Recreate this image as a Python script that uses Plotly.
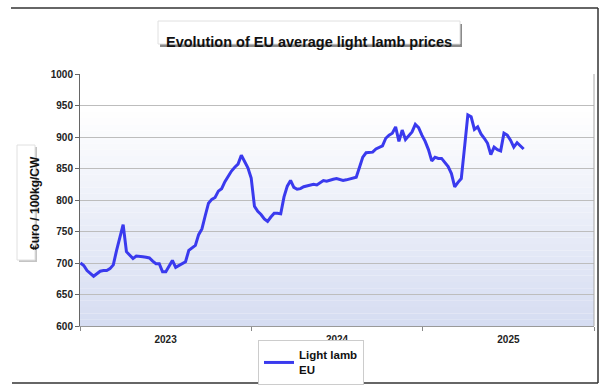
import plotly.graph_objects as go
import pandas as pd

# Weekly EU average light lamb prices (€/100kg CW), from first week of 2023
series_name = "<b>Light lamb<br>EU</b>"
start_week = "2023-01-02"
values = [
    700, 696, 688, 683, 679, 683, 687, 688, 688, 691,
    697, 720, 740, 761, 718, 712, 707, 711, 711, 710,
    709, 708, 703, 699, 699, 686, 686, 694, 704, 693,
    696, 700, 702, 720, 724, 728, 745, 754, 775, 795,
    801, 804, 814, 818, 829, 838, 846, 852, 857, 871,
    861, 851, 835, 790, 782, 777, 770, 766, 773, 779,
    779, 778, 805, 822, 831, 820, 817, 818, 821, 822,
    824, 825, 824, 827, 831, 830, 832, 833, 834, 832,
    831, 832, 833, 834, 836, 852, 868, 875, 875, 876,
    881, 883, 886, 898, 903, 906, 916, 893, 911, 896,
    902, 908, 920, 915, 903, 893, 880, 862, 868, 866,
    866, 860, 853, 842, 821, 828, 834, 884, 935, 932,
    912, 916, 905, 898, 890, 872, 884, 880, 878, 906,
    903, 895, 884, 891, 886, 881,
]
dates = pd.date_range(start_week, periods=len(values), freq="7D")

y_min, y_max, y_step = 600, 1000, 50
x_start, x_end = "2023-01-01", "2026-01-01"

L, R, T, B = 80, 6, 74, 60
W, H = 600, 386
PW, PH = W - L - R, H - T - B


def px(xv):
    return (xv - L) / PW


def py(yv):
    return (H - B - yv) / PH


fig = go.Figure()
fig.add_trace(go.Scatter(
    x=dates, y=values, mode="lines", name=series_name,
    line=dict(color="rgb(58,58,238)", width=3),
))

# gradient plot background (white at top -> pale blue at bottom)
n_strips = 40
shapes = []
for i in range(n_strips):
    f0 = i / n_strips          # measured from top
    f1 = (i + 1) / n_strips
    t = (f0 + f1) / 2          # 0 at top, 1 at bottom
    t = max(0.0, (t - 0.15) / 0.85)
    r = int(255 - t * (255 - 214))
    g = int(255 - t * (255 - 221))
    b = int(255 - t * (255 - 242))
    shapes.append(dict(type="rect", xref="x domain", yref="y domain",
                       x0=0, x1=1, y0=1 - f1, y1=1 - f0,
                       fillcolor=f"rgb({r},{g},{b})", line=dict(width=0),
                       layer="below"))
# outer frame (top, right, bottom)
for x0, y0, x1, y1 in [(11, 8, 598, 8), (598, 8, 598, 383), (12, 383, 598, 383)]:
    shapes.append(dict(type="line", xref="paper", yref="paper",
                       x0=px(x0), x1=px(x1), y0=py(y0), y1=py(y1),
                       line=dict(color="#333", width=1.5)))
# title box shadow and box
shapes.append(dict(type="rect", xref="paper", yref="paper",
                   x0=px(160), x1=px(462), y0=py(47), y1=py(24),
                   fillcolor="#8a8a8a", line=dict(width=0)))
shapes.append(dict(type="rect", xref="paper", yref="paper",
                   x0=px(158), x1=px(460), y0=py(44), y1=py(21),
                   fillcolor="white", line=dict(color="#e0e0e0", width=1)))
# y-title box shadow and box
shapes.append(dict(type="rect", xref="paper", yref="paper",
                   x0=px(19), x1=px(37), y0=py(262), y1=py(147),
                   fillcolor="#c4c4c4", line=dict(width=0)))
shapes.append(dict(type="rect", xref="paper", yref="paper",
                   x0=px(17), x1=px(35), y0=py(260), y1=py(145),
                   fillcolor="white", line=dict(color="#e0e0e0", width=1)))
# plot right border
shapes.append(dict(type="line", xref="x domain", yref="y domain",
                   x0=1, x1=1, y0=0, y1=1, line=dict(color="#aaaaaa", width=1)))

fig.update_layout(
    width=W, height=H,
    margin=dict(l=L, r=R, t=T, b=B, autoexpand=False),
    paper_bgcolor="white", plot_bgcolor="rgba(0,0,0,0)",
    font=dict(family="Liberation Sans, Arial", color="#222"),
    shapes=shapes,
    showlegend=True,
    legend=dict(x=px(258), y=py(340), xanchor="left", yanchor="top",
                bgcolor="white", bordercolor="#cccccc", borderwidth=1,
                font=dict(size=11.5, color="#111", family="Liberation Sans, Arial"),
                itemwidth=30, tracegroupgap=0),
    annotations=[
        dict(text="<b>Evolution of EU average light lamb prices</b>", xref="paper", yref="paper",
             x=px(309), y=py(32), showarrow=False,
             font=dict(size=14.5, color="#111", family="Liberation Sans, Arial")),
        dict(text="<b>€uro / 100kg/CW</b>", xref="paper", yref="paper",
             x=px(26), y=py(203), showarrow=False, textangle=-90,
             font=dict(size=12, color="#111", family="Liberation Sans, Arial")),
    ],
)
fig.update_xaxes(
    type="date", range=[x_start, x_end], dtick="M12", tick0=x_start,
    ticklabelmode="period", tickformat="%Y",
    showgrid=False, showline=True, linecolor="#999", linewidth=1,
    ticks="outside", ticklen=4, tickcolor="#888",
    tickfont=dict(size=10, color="#222", family="Liberation Sans, Arial", weight="bold"),
)
fig.update_yaxes(
    range=[y_min, y_max], dtick=y_step, tick0=y_min,
    showgrid=True, gridcolor="#bdbdbd", gridwidth=1,
    showline=True, linecolor="#666", linewidth=1,
    ticks="outside", ticklen=4, tickcolor="#666",
    tickfont=dict(size=10, color="#222", family="Liberation Sans, Arial", weight="bold"),
    zeroline=False,
)

fig.write_html("out.html", config={"displayModeBar": False},
               post_script="document.body.style.margin='0';document.body.style.overflow='hidden';")
